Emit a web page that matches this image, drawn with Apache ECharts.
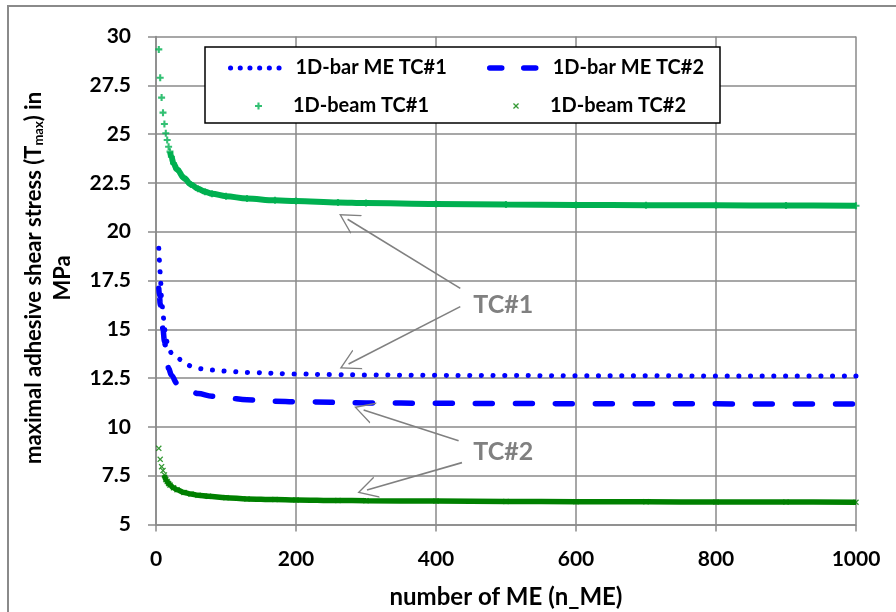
<!DOCTYPE html>
<html><head><meta charset="utf-8">
<script src="https://cdn.jsdelivr.net/npm/echarts@6/dist/echarts.min.js"></script>
<style>html,body{margin:0;padding:0;background:#fff;}#c{width:896px;height:612px;}</style>
</head><body><div id="c"></div>
<script>
// ---- data ----
const xTicks = [0, 200, 400, 600, 800, 1000];
const yTicks = [5, 7.5, 10, 12.5, 15, 17.5, 20, 22.5, 25, 27.5, 30];

const barN1 = [4,5,6,8,10,12,14,17,22,30,40,50,65,80,100,130,200,250,300,400,500,600,700,800,900,1000];
const barV1 = [19.15,18.5,17.9,16.6,15.8,15.1,14.6,14.15,13.8,13.55,13.3,13.12,12.98,12.91,12.86,12.79,12.71,12.68,12.66,12.64,12.63,12.62,12.62,12.61,12.61,12.61];

const barN2 = [4,5,6,8,10,12,15,18,22,30,40,50,60,80,100,130,170,200,300,400,500,600,700,800,900,1000];
const barV2 = [17.1,16.7,16.3,15.6,15.0,14.4,13.7,13.0,12.65,12.23,11.97,11.82,11.71,11.57,11.49,11.39,11.32,11.29,11.23,11.21,11.2,11.19,11.18,11.18,11.17,11.17];

const beamN1 = [4,6,8,10,12,14,16,18,20,22,25,30,40,50,60,70,80,100,130,170,200,260,300,400,500,600,700,800,900,1000];
const beamV1 = [29.34,27.89,26.87,26.1,25.52,25.04,24.7,24.35,24.1,23.84,23.5,23.2,22.75,22.42,22.2,22.05,21.95,21.82,21.7,21.61,21.57,21.5,21.47,21.42,21.39,21.37,21.36,21.35,21.34,21.33];

const beamN2 = [4,6,8,10,12,14,16,18,20,25,30,40,50,60,75,100,130,170,200,260,300,400,500,600,700,800,900,1000];
const beamV2 = [8.9,8.34,7.96,7.76,7.54,7.3,7.2,7.1,7.02,6.88,6.78,6.64,6.56,6.5,6.45,6.37,6.31,6.28,6.26,6.23,6.22,6.2,6.18,6.17,6.16,6.15,6.15,6.14];

const seriesNames = ['1D-bar ME TC#1', '1D-bar ME TC#2', '1D-beam TC#1', '1D-beam TC#2'];
const annotLabels = ['TC#1', 'TC#2'];
// annotation arrows in data space: [from, to]
const arrowsTC1 = [[[434.7, 17.1], [273.7, 20.64]], [[434.7, 16.16], [275.1, 13.22]]];
const arrowsTC2 = [[[432.3, 9.29], [296.6, 10.87]], [[437.1, 8.17], [301.4, 6.77]]];
const labelPos = [[496, 16.24], [496, 8.71]];

// ---- styling ----
const FONT = 'Lato';
const GRAY = '#8a8a8a';
const ANN = '#808080';
const plusPath = 'path://M35,0H65V35H100V65H65V100H35V65H0V35H35Z';
const crossPath = 'path://M15,0L50,35L85,0L100,15L65,50L100,85L85,100L50,65L15,100L0,85L35,50L0,15Z';
const arrowPath = 'path://M50,0L100,100L93,100L50,14L7,100L0,100Z';

const pairs = (xs, ys) => xs.map((x, i) => [x, ys[i]]);
const bandStart1 = beamN1.indexOf(20);
const bandStart2 = beamN2.indexOf(12);

const chart = echarts.init(document.getElementById('c'), null, {renderer: 'canvas'});

function arrowLines(list) {
  return list.map(a => [{coord: a[0]}, {coord: a[1]}]);
}

const legendText = {fontFamily: FONT, fontWeight: 'bold', fontSize: 20, color: '#000'};
const hiddenSym = {color: 'rgba(0,0,0,0)', borderWidth: 0, opacity: 0};

const option = {
  animation: false,
  backgroundColor: '#fff',
  grid: {left: 156, right: 40, top: 36.5, bottom: 87.5, containLabel: false, outerBoundsMode: 'none'},
  xAxis: {
    type: 'value', min: xTicks[0], max: xTicks[xTicks.length - 1], interval: 200,
    name: 'number of ME (n_ME)', nameLocation: 'middle', nameGap: 61,
    nameTextStyle: {fontFamily: FONT, fontWeight: 'bold', fontSize: 24, color: '#000'},
    axisLine: {show: true, lineStyle: {color: GRAY, width: 1.5}},
    axisTick: {show: true, length: 7, lineStyle: {color: GRAY, width: 1.5}},
    splitLine: {show: true, lineStyle: {color: GRAY, width: 1.5}},
    axisLabel: {fontFamily: FONT, fontWeight: 'bold', fontSize: 21, color: '#000', margin: 24,
      formatter: v => xTicks.includes(v) ? String(v) : ''}
  },
  yAxis: {
    type: 'value', min: yTicks[0], max: yTicks[yTicks.length - 1], interval: 2.5,
    axisLine: {show: true, lineStyle: {color: GRAY, width: 1.5}},
    axisTick: {show: true, length: 8, lineStyle: {color: GRAY, width: 1.5}},
    splitLine: {show: true, lineStyle: {color: GRAY, width: 1.5}},
    axisLabel: {fontFamily: FONT, fontWeight: 'bold', fontSize: 21, color: '#000', margin: 25,
      formatter: v => String(v)}
  },
  legend: [
    {data: [{name: seriesNames[0]}], left: 228, top: 58, padding: 0, itemWidth: 54, itemHeight: 12, z: 10,
      itemStyle: hiddenSym,
      lineStyle: {color: '#0000FF', width: 5, type: [0.1, 9.6], cap: 'round'},
      textStyle: Object.assign({padding: [0, 0, 0, 6]}, legendText)},
    {data: [{name: seriesNames[1]}], left: 487, top: 58, padding: 0, itemWidth: 50, itemHeight: 12, z: 10,
      itemStyle: hiddenSym,
      lineStyle: {color: '#0000FF', width: 5.5, type: [12, 22], cap: 'round'},
      textStyle: Object.assign({padding: [0, 0, 0, 8]}, legendText)},
    {data: [{name: seriesNames[2], icon: plusPath}], left: 255, top: 96, padding: 0, itemWidth: 7, itemHeight: 7, z: 10,
      textStyle: Object.assign({padding: [0, 0, 0, 26]}, legendText)},
    {data: [{name: seriesNames[3], icon: crossPath}], left: 513, top: 96, padding: 0, itemWidth: 6, itemHeight: 6, z: 10,
      textStyle: Object.assign({padding: [0, 0, 0, 26]}, legendText)}
  ],
  graphic: [
    {type: 'rect', z: -10, silent: true, shape: {x: 8, y: 6, width: 920, height: 640},
      style: {fill: 'none', stroke: GRAY, lineWidth: 2}},
    {type: 'rect', z: 9, silent: true, shape: {x: 205, y: 47, width: 515, height: 76},
      style: {fill: '#fff', stroke: '#000', lineWidth: 1.5}},
    {type: 'text', z: 9, silent: true, x: 48, y: 278, rotation: Math.PI / 2,
      style: {
        text: 'maximal adhesive shear stress (T{sub|max}) in\nMPa',
        fontFamily: FONT, fontWeight: 'bold', fontSize: 22, fill: '#000',
        align: 'center', verticalAlign: 'middle', lineHeight: 29,
        rich: {sub: {fontFamily: FONT, fontWeight: 'bold', fontSize: 13, lineHeight: 13, verticalAlign: 'bottom', padding: [0, 0, 3, 0]}}
      }}
  ],
  series: [
    {
      name: seriesNames[0], type: 'line', data: pairs(barN1, barV1), symbol: 'none',
      smooth: 0.35, smoothMonotone: 'x', z: 3,
      itemStyle: {color: '#0000FF'},
      lineStyle: {color: '#0000FF', width: 5, type: [0.1, 11.6], cap: 'round'},
      markLine: {
        silent: true, symbol: ['none', arrowPath], symbolSize: [22, 20],
        label: {show: false}, lineStyle: {color: ANN, width: 1.6, type: 'solid'},
        data: arrowLines(arrowsTC1).concat(arrowLines(arrowsTC2))
      },
      markPoint: {
        silent: true, symbol: 'rect', symbolSize: 1, itemStyle: {color: 'rgba(0,0,0,0)'},
        label: {show: true, position: 'inside', fontFamily: FONT, fontWeight: 'bold', fontSize: 25, color: ANN},
        data: labelPos.map((p, i) => ({coord: p, value: annotLabels[i], label: {formatter: annotLabels[i]}}))
      }
    },
    {
      name: seriesNames[1], type: 'line', data: pairs(barN2, barV2), symbol: 'none',
      smooth: 0.35, smoothMonotone: 'x', z: 3,
      itemStyle: {color: '#0000FF'},
      lineStyle: {color: '#0000FF', width: 5.5, type: [17, 23], cap: 'round'}
    },
    {
      name: seriesNames[2], type: 'scatter', data: pairs(beamN1, beamV1), symbol: plusPath, symbolSize: 7, z: 2,
      itemStyle: {color: '#00B050'}
    },
    {
      name: seriesNames[2], type: 'line', data: pairs(beamN1.slice(bandStart1), beamV1.slice(bandStart1)), symbol: 'none',
      smooth: 0.35, smoothMonotone: 'x', z: 2,
      itemStyle: {color: '#00B050'}, lineStyle: {color: '#00B050', width: 6}
    },
    {
      name: seriesNames[3], type: 'scatter', data: pairs(beamN2, beamV2), symbol: crossPath, symbolSize: 6, z: 2,
      itemStyle: {color: '#008000'}
    },
    {
      name: seriesNames[3], type: 'line', data: pairs(beamN2.slice(bandStart2), beamV2.slice(bandStart2)), symbol: 'none',
      smooth: 0.35, smoothMonotone: 'x', z: 2,
      itemStyle: {color: '#008000'}, lineStyle: {color: '#008000', width: 5.5}
    }
  ]
};
chart.setOption(option);
</script>
</body></html>
